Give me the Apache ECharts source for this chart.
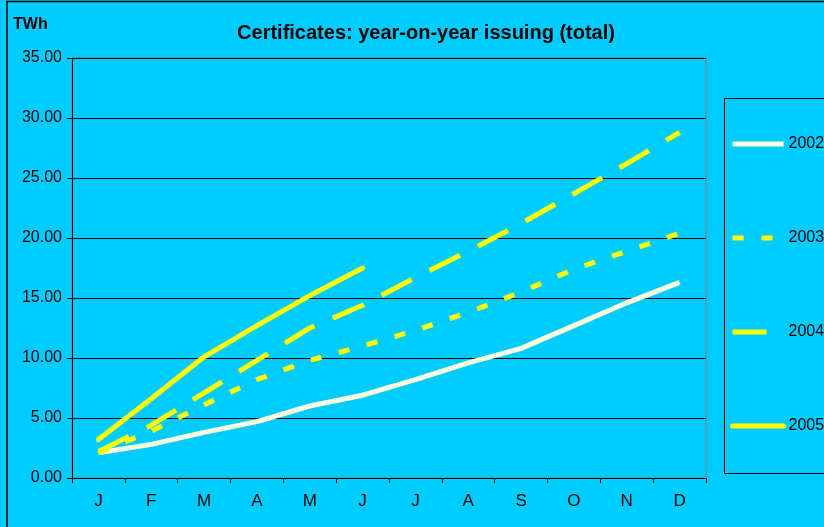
<!DOCTYPE html>
<html>
<head>
<meta charset="utf-8">
<script src="https://cdn.jsdelivr.net/npm/echarts@6/dist/echarts.min.js"></script>
<style>
  html, body { margin: 0; padding: 0; background: #00CCFF; }
  #chart { width: 824px; height: 527px; }
</style>
</head>
<body>
<div id="chart"></div>
<script>
  // month labels along the x axis
  let months = ["J", "F", "M", "A", "M", "J", "J", "A", "S", "O", "N", "D"];

  // cumulative issuing, TWh
  let y2002 = [2.1, 2.8, 3.8, 4.7, 6.0, 6.9, 8.2, 9.6, 10.8, 12.7, 14.6, 16.3];
  let y2003 = [2.1, 3.9, 6.1, 8.2, 9.8, 11.0, 12.3, 13.8, 15.5, 17.4, 18.9, 20.4];
  let y2004 = [2.2, 4.4, 7.1, 9.8, 12.5, 14.4, 16.7, 18.9, 21.2, 23.7, 26.2, 28.8];
  let y2005 = [3.2, 6.6, 10.1, 12.7, 15.2, 17.5];

  let chart = echarts.init(document.getElementById("chart"));

  let font = "Arial, 'Liberation Sans', sans-serif";

  let option = {
    backgroundColor: "#00CCFF",
    animation: false,
    textStyle: { fontFamily: font },
    title: [
      {
        text: "Certificates: year-on-year issuing (total)",
        left: 421,
        textAlign: "center",
        top: 18,
        textStyle: { fontSize: 20, fontWeight: "bold", color: "#000", fontFamily: font }
      },
      {
        text: "TWh",
        left: 8,
        top: 12,
        textStyle: { fontSize: 16, fontWeight: "bold", color: "#000", fontFamily: font }
      }
    ],
    graphic: [
      {
        type: "rect",
        shape: { x: 7, y: 1.5, width: 900, height: 700 },
        style: { fill: "none", stroke: "#000", lineWidth: 1.5 },
        silent: true
      },
      {
        type: "rect",
        shape: { x: 724.5, y: 98.5, width: 200, height: 375 },
        style: { fill: "none", stroke: "#000", lineWidth: 1 },
        silent: true
      }
    ],
    legend: {
      orient: "vertical",
      left: 725,
      top: 131,
      itemWidth: 51,
      itemHeight: 16,
      itemGap: 78,
      itemStyle: { opacity: 0 },
      lineStyle: { width: 5 },
      textStyle: { fontSize: 16, color: "#000", fontFamily: font },
      data: ["2002", "2003", "2004", "2005"]
    },
    grid: {
      left: 72,
      right: 118,
      top: 58,
      bottom: 49,
      show: true,
      borderColor: "#808080",
      borderWidth: 1
    },
    xAxis: {
      type: "category",
      data: months,
      boundaryGap: true,
      axisLine: { lineStyle: { color: "#000", width: 1 } },
      axisTick: { show: true, length: 5, lineStyle: { color: "#000" } },
      axisLabel: { color: "#000", fontSize: 17, margin: 15, fontFamily: font },
      splitLine: { show: false }
    },
    yAxis: {
      type: "value",
      min: 0,
      max: 35,
      interval: 5,
      axisLine: { show: true, lineStyle: { color: "#000", width: 1 } },
      axisTick: { show: true, length: 5, lineStyle: { color: "#000" } },
      axisLabel: {
        color: "#000",
        fontSize: 16,
        margin: 10,
        fontFamily: font,
        formatter: function (v) { return v.toFixed(2); }
      },
      splitLine: { show: true, lineStyle: { color: "#000", width: 1 } }
    },
    series: [
      {
        name: "2002",
        type: "line",
        data: y2002,
        symbol: "none",
        lineStyle: { color: "#FFFFDD", width: 5, cap: "butt" },
        itemStyle: { color: "#FFFFDD" }
      },
      {
        name: "2003",
        type: "line",
        data: y2003,
        symbol: "none",
        lineStyle: { color: "#FFFF00", width: 5, type: [11, 18], cap: "butt" },
        itemStyle: { color: "#FFFF00" }
      },
      {
        name: "2004",
        type: "line",
        data: y2004,
        symbol: "none",
        lineStyle: { color: "#FFFF00", width: 5, type: [34, 20], cap: "butt" },
        itemStyle: { color: "#FFFF00" }
      },
      {
        name: "2005",
        type: "line",
        data: y2005,
        symbol: "none",
        lineStyle: { color: "#FFFF00", width: 5, cap: "round", join: "round" },
        itemStyle: { color: "#FFFF00" }
      }
    ]
  };

  chart.setOption(option);
</script>
</body>
</html>
